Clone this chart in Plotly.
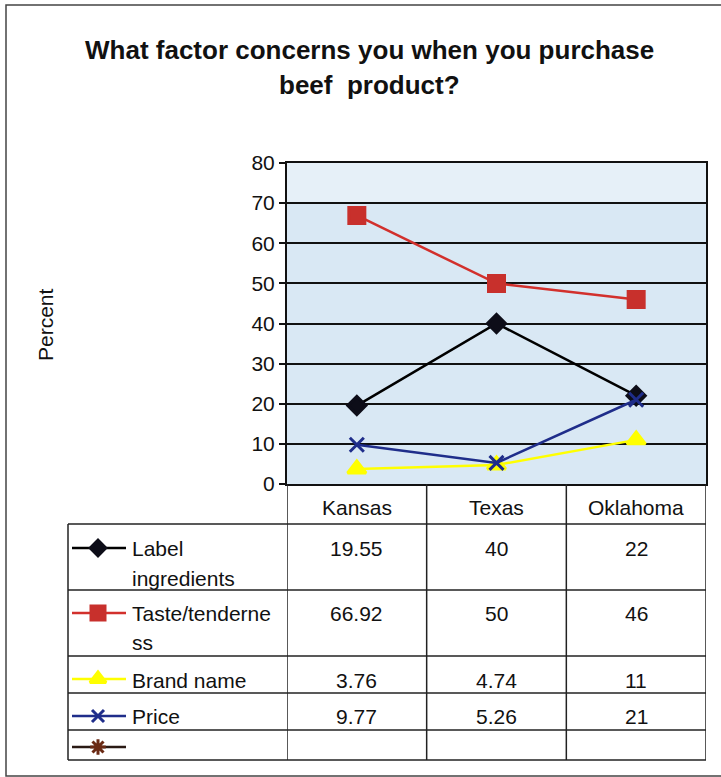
import plotly.graph_objects as go

# ---- data ----
states = ["Kansas", "Texas", "Oklahoma"]
series_names = ["Label ingredients", "Taste/tenderness", "Brand name", "Price"]
label_ingredients = [19.55, 40, 22]
taste_tenderness = [66.92, 50, 46]
brand_name = [3.76, 4.74, 11]
price = [9.77, 5.26, 21]
table_text = [["19.55", "40", "22"], ["66.92", "50", "46"], ["3.76", "4.74", "11"], ["9.77", "5.26", "21"]]
row_label_lines = [["Label", "ingredients"], ["Taste/tenderne", "ss"], ["Brand name"], ["Price"], []]
y_ticks = [0, 10, 20, 30, 40, 50, 60, 70, 80]

W, H = 721, 777
def px(x):
    return x / W
def py(y):
    return 1 - y / H

FONT = "Liberation Sans, Arial, sans-serif"

styles = [
    dict(color="#000000", mcolor="#0d0d18", symbol="diamond", size=14),
    dict(color="#d2302c", mcolor="#c8302c", symbol="square", size=16),
    dict(color="#ffff00", mcolor="#ffff00", symbol="triangle-up", size=16),
    dict(color="#1f2d8a", mcolor="#1f2d8a", symbol="x-thin-open", size=14),
]
values = [label_ingredients, taste_tenderness, brand_name, price]

fig = go.Figure()
for name, vals, st in zip(series_names, values, styles):
    fig.add_trace(go.Scatter(
        x=states, y=vals, mode="lines+markers", name=name,
        line=dict(color=st["color"], width=2.5),
        marker=dict(symbol=st["symbol"], size=st["size"], color=st["mcolor"],
                    line=dict(color=st["mcolor"], width=3)),
        xaxis="x", yaxis="y", showlegend=False, cliponaxis=False,
    ))

# legend keys inside the table's first column (pixel-space axes)
key_rows_y = [548, 613, 679, 716, 747]
key_styles = styles + [dict(color="#2a1a14", mcolor="#6a2a14", symbol="asterisk-open", size=15)]
for ky, st in zip(key_rows_y, key_styles):
    fig.add_trace(go.Scatter(
        x=[72, 126], y=[ky, ky], mode="lines",
        line=dict(color=st["color"], width=2.5),
        xaxis="x2", yaxis="y2", showlegend=False, hoverinfo="skip",
    ))
    fig.add_trace(go.Scatter(
        x=[98], y=[ky], mode="markers",
        marker=dict(symbol=st["symbol"], size=st["size"] - 2, color=st["mcolor"],
                    line=dict(color=st["mcolor"], width=3)),
        xaxis="x2", yaxis="y2", showlegend=False, hoverinfo="skip", cliponaxis=False,
    ))

shapes = []
shapes.append(dict(type="rect", xref="x domain", yref="y domain", x0=0, x1=1, y0=0, y1=1,
                   fillcolor="#d9e8f4", line=dict(width=0), layer="below"))
shapes.append(dict(type="rect", xref="x domain", yref="y domain", x0=0, x1=1, y0=0.875, y1=1,
                   fillcolor="#e6f0f8", line=dict(width=0), layer="below"))
shapes.append(dict(type="rect", xref="paper", yref="paper", x0=px(6), x1=px(730), y0=py(776), y1=py(5),
                   line=dict(color="#444444", width=1.5)))
for b in [-0.5, 0.5, 1.5, 2.5]:
    shapes.append(dict(type="line", xref="x", yref="paper", x0=b, x1=b, y0=py(484), y1=py(760),
                       line=dict(color="#222222", width=1.5)))
shapes.append(dict(type="line", xref="paper", yref="paper", x0=px(68), x1=px(68), y0=py(524), y1=py(760),
                   line=dict(color="#222222", width=1.5)))
for ry in [524, 590, 656, 693, 730, 760]:
    shapes.append(dict(type="line", xref="paper", yref="paper", x0=px(68), x1=px(706), y0=py(ry), y1=py(ry),
                       line=dict(color="#222222", width=1.5)))

def ann(text, x, y, xref="paper", size=21, xanchor="center", **kw):
    return dict(text=text, x=x, y=y, xref=xref, yref="paper", showarrow=False,
                xanchor=xanchor, yanchor="middle", font=dict(family=FONT, size=size, color="#111"), **kw)

annotations = []
annotations.append(ann("<b>What factor concerns you when you purchase</b>", px(369), py(50), size=26))
annotations.append(ann("<b>beef  product?</b>", px(369), py(85), size=26))
annotations.append(ann("Percent", px(45), py(325), textangle=-90))
for s in states:
    annotations.append(ann(s, s, py(507), xref="x"))
val_rows_y = [548, 613, 680, 716]
for row, ry in zip(table_text, val_rows_y):
    for s, t in zip(states, row):
        annotations.append(ann(t, s, py(ry), xref="x"))
label_line_y = [[548, 578], [613, 642], [680], [716], []]
for lines, ys in zip(row_label_lines, label_line_y):
    for t, ly in zip(lines, ys):
        annotations.append(ann(t, px(130), py(ly), xanchor="left"))

fig.update_layout(
    width=W, height=H, margin=dict(l=0, r=0, t=0, b=0, autoexpand=False),
    paper_bgcolor="white", plot_bgcolor="rgba(0,0,0,0)",
    xaxis=dict(domain=[px(287), px(706)], range=[-0.5, 2.5], type="category", anchor="y",
               showticklabels=False, showgrid=False, showline=True, linecolor="#111", linewidth=2,
               mirror=True, ticks="", zeroline=False),
    yaxis=dict(domain=[py(484), py(163)], range=[0, 80], tickvals=y_ticks, showgrid=True, anchor="x",
               gridcolor="#111", gridwidth=2, showline=True, linecolor="#111", linewidth=2, mirror=True,
               ticks="outside", ticklen=6, tickcolor="#111", tickwidth=1.5,
               tickfont=dict(family=FONT, size=21, color="#111"), zeroline=False),
    xaxis2=dict(domain=[px(68), px(287)], range=[68, 287], visible=False, fixedrange=True, anchor="y2"),
    yaxis2=dict(domain=[py(760), py(524)], range=[760, 524], visible=False, fixedrange=True, anchor="x2"),
    shapes=shapes, annotations=annotations,
)
fig.write_html("out.html", config={"displayModeBar": False},
               post_script="document.body.style.margin='0';document.body.style.overflow='hidden';")
